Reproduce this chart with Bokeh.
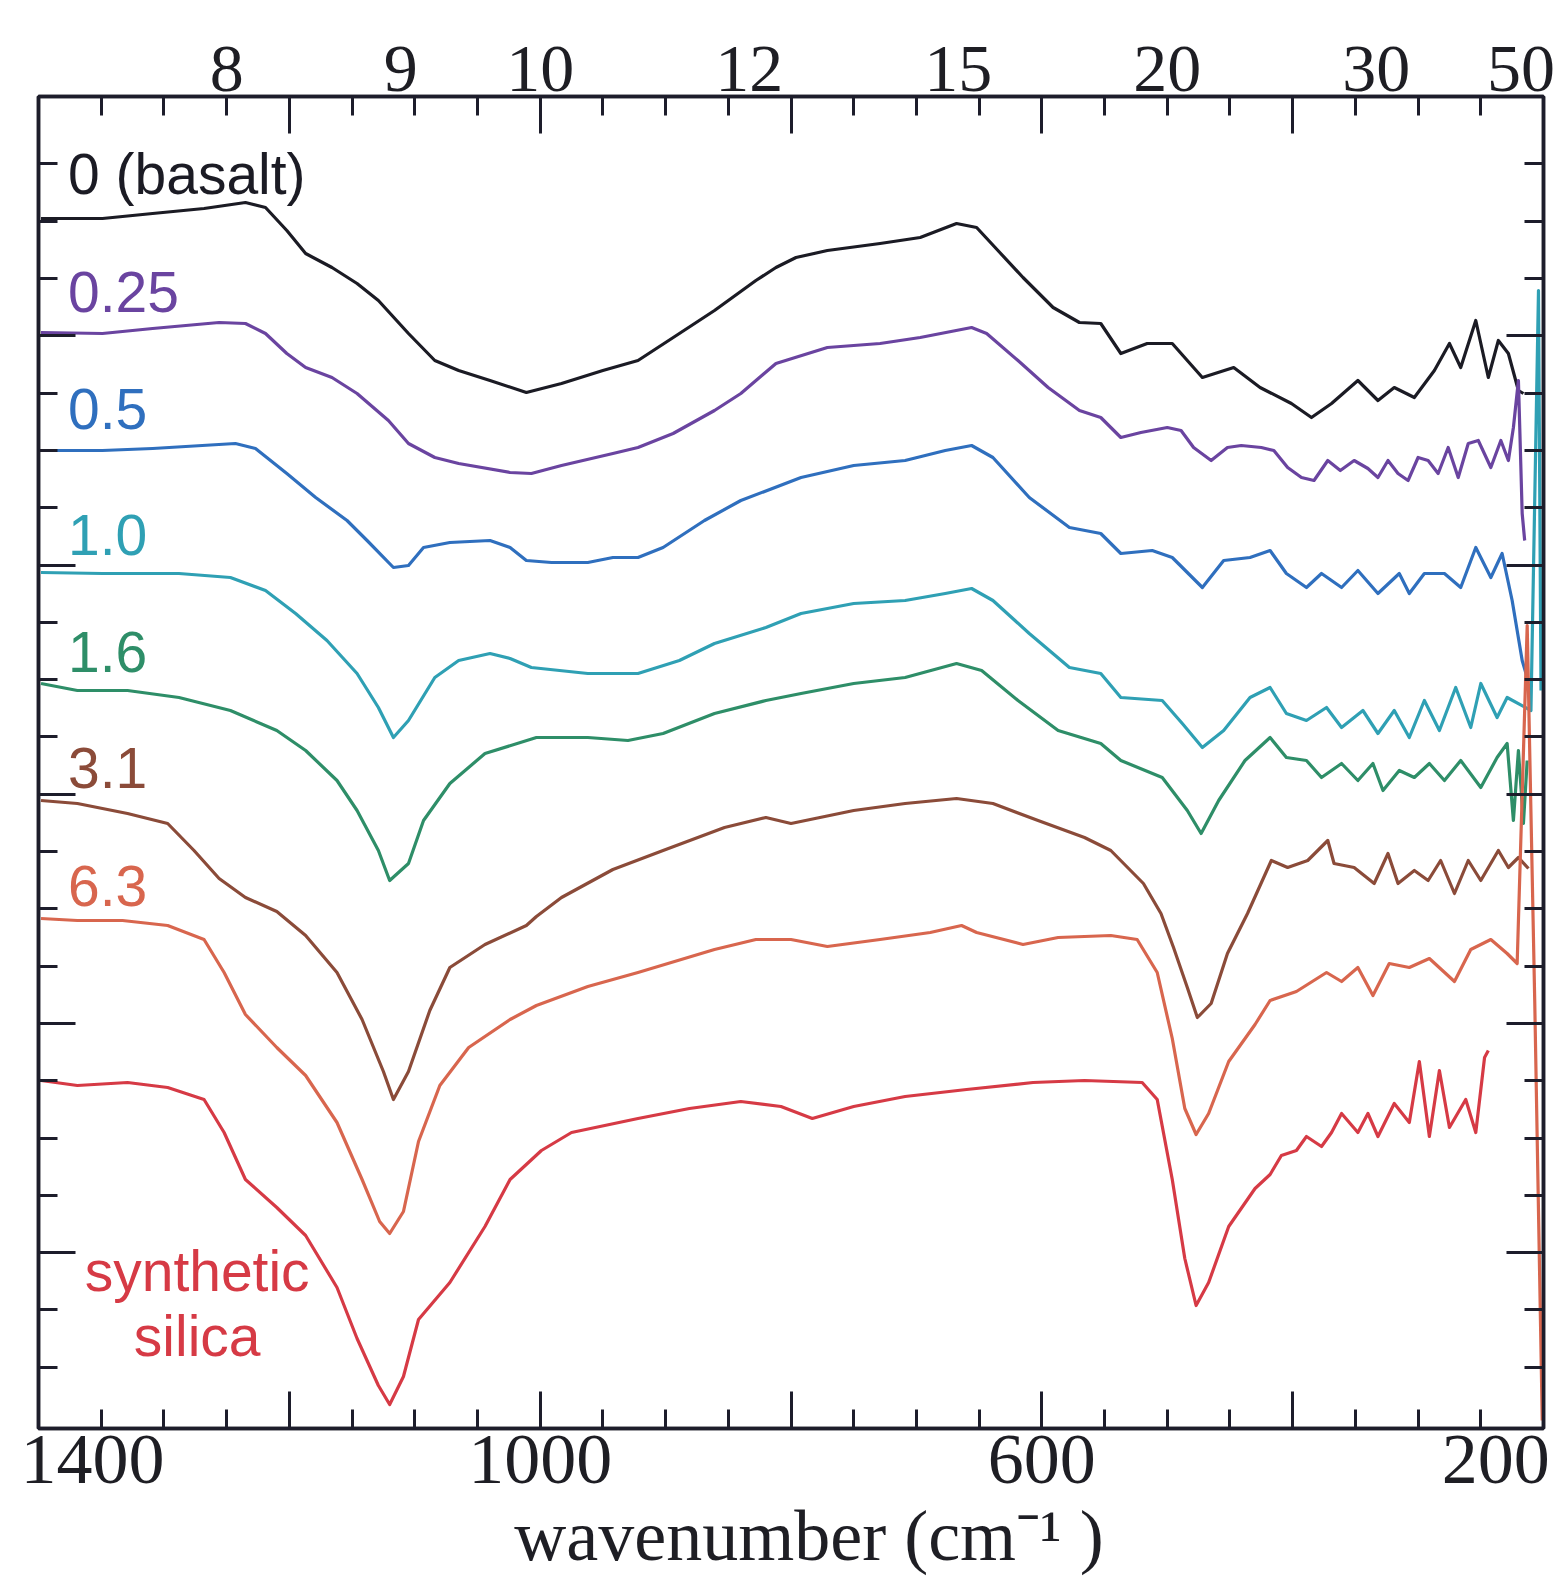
from bokeh.plotting import figure
from bokeh.models import Range1d, LinearAxis, FixedTicker, Label, CustomJSTickFormatter
from bokeh.embed import file_html
from bokeh.resources import INLINE

# ---------------- data (wavenumber in cm^-1, emissivity + offset in arbitrary units) -------------
basalt_wn = [1398, 1349, 1309, 1268, 1235, 1219, 1202, 1187, 1166, 1146, 1129, 1105, 1084, 1065, 1040, 1011, 983, 950, 922, 889,
             861, 828, 812, 796, 771, 729, 697, 668, 652, 635, 615, 591, 570, 553, 537, 516, 496, 472, 447, 426,
             401, 385, 369, 348, 332, 319, 303, 287, 275, 266, 254, 244, 236, 228, 220, 216]
basalt_r = [1210, 1210, 1215, 1220, 1226, 1221, 1198, 1175, 1161, 1145, 1128, 1095, 1068, 1058, 1048, 1036, 1045, 1058, 1068, 1095,
            1118, 1148, 1161, 1171, 1178, 1185, 1191, 1205, 1201, 1178, 1151, 1121, 1106, 1105, 1075, 1085, 1085, 1051, 1061, 1041,
            1025, 1011, 1025, 1048, 1028, 1041, 1031, 1058, 1085, 1061, 1108, 1051, 1088, 1075, 1038, 1035]

p025_wn = [1398, 1349, 1309, 1256, 1235, 1219, 1202, 1187, 1166, 1146, 1121, 1105, 1084, 1065, 1024, 1007, 983, 942, 922, 894,
           861, 840, 812, 771, 729, 697, 656, 644, 619, 595, 570, 553, 537, 521, 500, 489, 479, 465, 452, 441,
           425, 415, 404, 393, 383, 372, 362, 351, 340, 332, 324, 316, 308, 300, 292, 284, 276, 268, 260, 252,
           242, 234, 228, 224, 220, 217, 215]
p025_r = [1096, 1095, 1100, 1106, 1105, 1095, 1075, 1061, 1051, 1035, 1008, 985, 971, 965, 956, 955, 963, 975, 981, 995,
          1018, 1035, 1065, 1081, 1085, 1091, 1101, 1095, 1068, 1041, 1018, 1011, 991, 996, 1001, 998, 981, 968, 981, 983,
          981, 978, 961, 951, 948, 968, 958, 968, 960, 951, 968, 955, 948, 971, 968, 955, 981, 951, 985, 988,
          961, 988, 968, 1001, 1048, 915, 888]

p05_wn = [1398, 1349, 1309, 1243, 1227, 1202, 1179, 1154, 1138, 1117, 1105, 1093, 1072, 1040, 1024, 1011, 991, 962, 942, 922,
          902, 869, 840, 792, 750, 709, 677, 656, 639, 610, 578, 553, 537, 512, 496, 472, 455, 434, 418, 405,
          389, 377, 361, 348, 332, 315, 307, 295, 279, 266, 254, 242, 233, 225, 217, 213]
p05_r = [978, 978, 980, 985, 980, 955, 931, 908, 888, 861, 863, 881, 886, 888, 881, 868, 866, 866, 871, 871,
         881, 908, 928, 951, 963, 968, 978, 983, 971, 931, 901, 895, 875, 878, 871, 841, 868, 871, 878, 855,
         841, 855, 841, 858, 835, 855, 835, 855, 855, 841, 881, 851, 875, 828, 768, 751]

p10_wn = [1398, 1349, 1288, 1247, 1219, 1195, 1170, 1146, 1129, 1117, 1105, 1084, 1065, 1040, 1024, 1007, 962, 922, 889, 861,
          820, 792, 750, 709, 677, 656, 639, 610, 578, 553, 537, 504, 488, 472, 455, 434, 418, 405, 389, 373,
          361, 344, 332, 319, 307, 295, 283, 270, 258, 250, 237, 229, 210, 204, 202]
p10_r = [856, 855, 855, 851, 838, 815, 788, 755, 721, 691, 708, 751, 768, 775, 770, 761, 755, 755, 768, 785,
         801, 815, 825, 828, 835, 840, 828, 795, 761, 755, 731, 728, 705, 681, 698, 731, 741, 715, 708, 721,
         701, 718, 695, 718, 691, 728, 698, 741, 701, 745, 711, 731, 718, 1138, 738]

p16_wn = [1398, 1369, 1329, 1288, 1247, 1210, 1187, 1162, 1146, 1129, 1120, 1105, 1093, 1072, 1044, 1003, 962, 930, 902, 861,
          820, 792, 750, 709, 668, 648, 619, 587, 553, 537, 504, 484, 473, 459, 438, 418, 405, 389, 377, 361,
          348, 336, 328, 315, 303, 291, 279, 266, 250, 237, 229, 224, 220, 216, 213]
p16_r = [745, 738, 738, 731, 718, 698, 678, 648, 618, 578, 548, 565, 608, 645, 675, 691, 691, 688, 695, 715,
         728, 735, 745, 751, 765, 758, 728, 698, 685, 668, 651, 618, 595, 628, 668, 691, 671, 668, 651, 665,
         648, 665, 638, 658, 651, 665, 648, 668, 641, 671, 685, 608, 678, 605, 668]

p31_wn = [1398, 1369, 1329, 1297, 1276, 1256, 1235, 1210, 1187, 1162, 1142, 1125, 1117, 1105, 1088, 1072, 1044, 1011, 1003, 983,
          942, 902, 853, 820, 800, 750, 709, 668, 639, 603, 566, 545, 519, 505, 495, 484, 476, 465, 452, 436,
          417, 404, 388, 372, 367, 351, 335, 324, 316, 303, 292, 282, 271, 260, 250, 236, 228, 220, 212]
p31_r = [628, 625, 615, 605, 578, 550, 531, 517, 493, 456, 409, 357, 329, 357, 418, 461, 484, 503, 512, 531,
         559, 578, 601, 611, 605, 618, 625, 630, 625, 608, 591, 578, 545, 515, 481, 441, 411, 425, 475, 515,
         568, 561, 568, 588, 565, 561, 545, 575, 545, 558, 548, 568, 535, 568, 548, 578, 561, 571, 560]

p63_wn = [1398, 1369, 1333, 1297, 1268, 1252, 1235, 1210, 1187, 1162, 1142, 1128, 1120, 1109, 1097, 1080, 1057, 1024, 1003, 962,
          922, 861, 828, 800, 771, 729, 689, 664, 652, 615, 587, 545, 524, 508, 496, 486, 477, 467, 451, 430,
          418, 397, 373, 361, 348, 336, 323, 307, 291, 271, 258, 242, 229, 221, 213, 207, 201]
p63_r = [510, 508, 508, 503, 489, 456, 414, 381, 353, 306, 249, 207, 195, 217, 287, 343, 381, 409, 423, 442,
         456, 479, 489, 489, 482, 489, 496, 503, 496, 484, 491, 493, 489, 456, 390, 320, 294, 315, 367, 404,
         428, 437, 456, 447, 461, 433, 465, 461, 470, 447, 479, 489, 475, 465, 803, 428, 8]

silica_wn = [1398, 1369, 1329, 1297, 1268, 1252, 1235, 1210, 1187, 1162, 1146, 1129, 1120, 1109, 1097, 1072, 1044, 1024, 999, 975,
             922, 881, 840, 808, 783, 750, 709, 660, 607, 566, 520, 508, 496, 486, 477, 467, 451, 430, 418, 409,
             397, 389, 377, 369, 361, 348, 340, 332, 319, 307, 299, 291, 283, 275, 262, 254, 247, 244]
silica_r = [348, 343, 346, 341, 329, 296, 249, 221, 193, 141, 90, 43, 24, 52, 109, 146, 202, 249, 278, 296,
            310, 320, 327, 322, 310, 322, 332, 339, 346, 348, 346, 329, 249, 170, 123, 146, 202, 240, 254, 273,
            278, 292, 282, 296, 315, 296, 315, 292, 325, 306, 367, 292, 358, 301, 329, 296, 371, 378]

series_names = ["0 (basalt)", "0.25", "0.5", "1.0", "1.6", "3.1", "6.3", "synthetic silica"]
series_colors = ["#1b1b24", "#6a44a0", "#2f6fbe", "#2fa0b4", "#2e8e68", "#8b4b39", "#d8664e", "#d63a45"]
series_wn = [basalt_wn, p025_wn, p05_wn, p10_wn, p16_wn, p31_wn, p63_wn, silica_wn]
series_r = [basalt_r, p025_r, p05_r, p10_r, p16_r, p31_r, p63_r, silica_r]
label_level = [1255, 1137, 1020, 894, 777, 661, 543]   # baselines of the series labels
silica_label_level = [158, 93]

# bottom axis: tick marks every 50 cm^-1 (long every 200); the labels of the two
# end ticks sit inside the frame edges, as in the original figure
bottom_major = [1400, 1200, 1000, 800, 600, 400, 200]
minor_x = list(range(1350, 200, -50))
bottom_text = ["1400", "1000", "600", "200"]
bottom_text_pos = [1357, 1000, 600, 238]
# top axis: wavelength in micrometres (10000 / wavenumber); "50" kept inside the frame edge
top_text = ["8", "9", "10", "12", "15", "20", "30", "50"]
top_text_pos = [10000 / 8, 10000 / 9, 10000 / 10, 10000 / 12, 10000 / 15, 10000 / 20, 10000 / 30, 218]
y_minor = [4 + 57.3 * k for k in range(1, 23)]
y_major = [4 + 57.3 * k for k in (3, 7, 11, 15, 19)]

# ---------------- figure -------------------------------------------------------------------------
AX = "#1d1d2b"
TXT = "#1e1e24"
SERIF = "Liberation Serif"
SANS = "Liberation Sans"

p = figure(width=1556, height=1586, output_backend="svg", toolbar_location=None,
           x_range=Range1d(1400, 200), y_range=Range1d(0, 1332),
           x_axis_location=None, y_axis_location=None,
           min_border_left=38, min_border_right=13, min_border_top=96, min_border_bottom=158,
           background_fill_color="white", border_fill_color="white")
p.grid.grid_line_color = None
p.outline_line_color = AX
p.outline_line_width = 3.5


def style(ax, ticks=True):
    ax.axis_line_color = AX if ticks else None
    ax.axis_line_width = 3.5
    ax.major_tick_line_color = AX if ticks else None
    ax.minor_tick_line_color = AX if ticks else None
    ax.major_tick_line_width = 3
    ax.minor_tick_line_width = 3
    ax.major_tick_in = 37 if ticks else 0
    ax.major_tick_out = 0
    ax.minor_tick_in = 19 if ticks else 0
    ax.minor_tick_out = 0
    ax.major_label_standoff = 0


empty = CustomJSTickFormatter(code="return ''")
pick = ("let b = 0; for (let i = 0; i < pos.length; i++) { if (Math.abs(pos[i] - tick) < Math.abs(pos[b] - tick)) b = i; }"
        " return txt[b];")

# bottom: tick marks (next to the frame), then the labels + title
bottom_ticks = LinearAxis(ticker=FixedTicker(ticks=bottom_major, minor_ticks=minor_x), formatter=empty)
style(bottom_ticks)
p.add_layout(bottom_ticks, "below")

bottom_labels = LinearAxis(ticker=FixedTicker(ticks=bottom_text_pos, minor_ticks=[]),
                           formatter=CustomJSTickFormatter(args=dict(pos=bottom_text_pos, txt=bottom_text), code=pick),
                           axis_label="\u00a0\u00a0wavenumber (cm\u207b\u00b9 )")
style(bottom_labels, ticks=False)
bottom_labels.major_label_standoff = 7
bottom_labels.major_label_text_font = SERIF
bottom_labels.major_label_text_font_size = "72px"
bottom_labels.major_label_text_color = TXT
bottom_labels.axis_label_text_font = SERIF
bottom_labels.axis_label_text_font_size = "72px"
bottom_labels.axis_label_text_font_style = "normal"
bottom_labels.axis_label_text_color = TXT
bottom_labels.axis_label_standoff = 10
p.add_layout(bottom_labels, "below")

# top: tick marks, then wavelength labels
top_ticks = LinearAxis(ticker=FixedTicker(ticks=bottom_major, minor_ticks=minor_x), formatter=empty)
style(top_ticks)
p.add_layout(top_ticks, "above")

top_labels = LinearAxis(ticker=FixedTicker(ticks=top_text_pos, minor_ticks=[]),
                        formatter=CustomJSTickFormatter(args=dict(pos=top_text_pos, txt=top_text), code=pick))
style(top_labels, ticks=False)
top_labels.major_label_standoff = 6
top_labels.major_label_text_font = SERIF
top_labels.major_label_text_font_size = "68px"
top_labels.major_label_text_color = TXT
p.add_layout(top_labels, "above")

for side in ("left", "right"):
    ax = LinearAxis(ticker=FixedTicker(ticks=y_major, minor_ticks=y_minor), formatter=empty)
    style(ax)
    p.add_layout(ax, side)

# ---------------- curves ------------------------------------------------------------------------
for wn, r, c in zip(series_wn, series_r, series_colors):
    p.line(wn, r, line_color=c, line_width=3.2, line_join="round")

# ---------------- series labels -----------------------------------------------------------------
for name, c, lv in zip(series_names[:7], series_colors[:7], label_level):
    p.add_layout(Label(x=1376.5, y=lv, text=name, text_color=c, text_font=SANS,
                       text_font_size="57px", text_align="left", text_baseline="alphabetic"))
for word, lv in zip(series_names[7].split(), silica_label_level):
    p.add_layout(Label(x=1273.5, y=lv, text=word, text_color=series_colors[7], text_font=SANS,
                       text_font_size="57px", text_align="center", text_baseline="alphabetic"))

open("out.html", "w").write(file_html(p, INLINE))
